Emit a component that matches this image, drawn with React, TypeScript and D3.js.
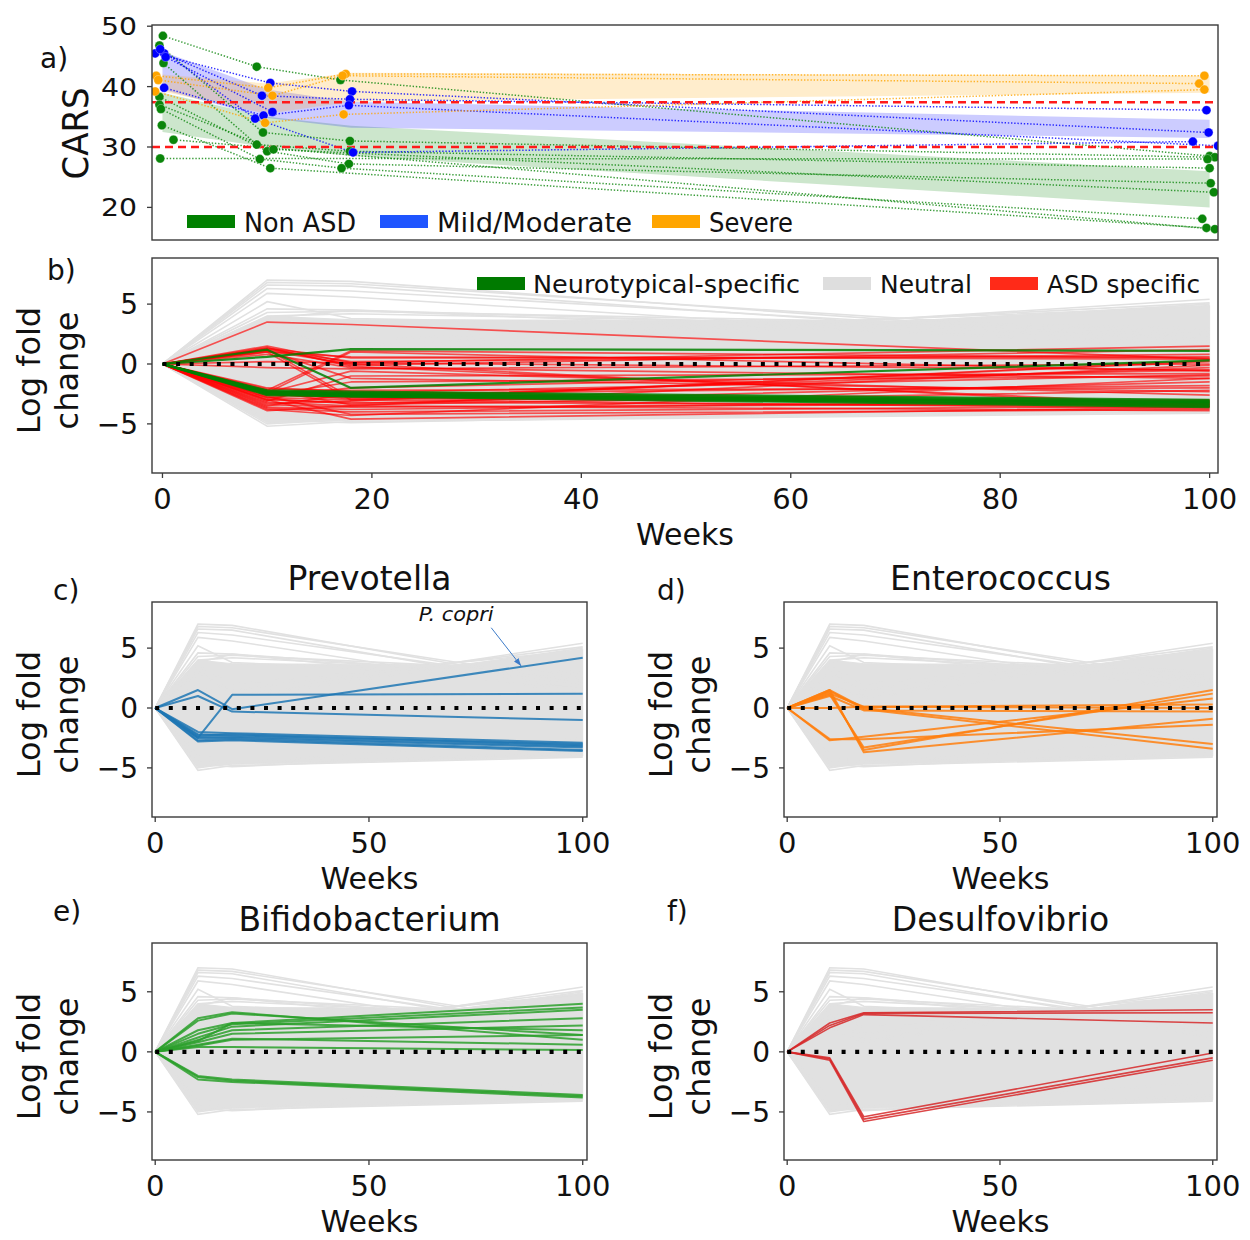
import React from "react";
import * as d3 from "d3";

const FONT = "'DejaVu Sans', sans-serif";

// ---------------- shared time axis ----------------
const weeks = [0, 10, 18, 100];

// ---------------- panel a : CARS ----------------
const carsTicks = [20, 30, 40, 50];
const carsThresholds = [30, 37.4];
const groupNames = ["Non ASD", "Mild/Moderate", "Severe"];
const groupMarkerColors = ["#0a850a", "#0000ff", "#ffa500"];
const groupLegendColors = ["#008000", "#1f55ff", "#ffa500"];
const groupBandColors = ["#008000", "#0000ff", "#ffa500"];

// each subject: [week, CARS] visits
const nonAsdSubjects: [number, number][][] = [
  [[0.04, 48.4], [9.0, 43.3], [17.0, 41.1], [100.0, 28.5]],
  [[-0.29, 46.8], [9.6, 32.4], [17.9, 31.0], [100.5, 28.3]],
  [[0.1, 43.9], [9.0, 30.4], [17.9, 29.3], [100.0, 26.5]],
  [[-0.29, 38.3], [10.0, 29.3], [17.8, 27.2], [100.1, 24.0]],
  [[-0.29, 37.0], [10.6, 29.6], [100.4, 22.5]],
  [[-0.15, 36.3], [9.3, 28.0], [17.1, 26.5], [99.3, 18.1]],
  [[-0.06, 33.6], [10.3, 26.5], [99.7, 16.6]],
  [[1.05, 31.2], [100.5, 16.4]],
  [[-0.22, 28.1], [99.8, 28.0]],
];
const mildSubjects: [number, number][][] = [
  [[-0.7, 45.5], [10.3, 40.6], [18.1, 39.2], [99.9, 32.4]],
  [[0.16, 45.5], [9.5, 38.5], [17.9, 37.9], [99.7, 36.1]],
  [[-0.22, 46.2], [8.85, 34.7], [18.2, 29.1], [98.4, 30.9]],
  [[0.16, 39.8], [9.65, 35.2], [17.8, 36.9], [100.8, 30.2]],
  [[0.3, 44.9], [10.5, 35.8]],
];
const severeSubjects: [number, number][][] = [
  [[-0.6, 41.8], [10.1, 39.8], [17.5, 42.1], [99.5, 41.8]],
  [[-0.4, 41.1], [10.5, 38.5], [17.2, 41.8], [99.0, 40.5]],
  [[-0.7, 39.2], [9.8, 34.0], [17.3, 35.4], [99.5, 39.5]],
];
const nonAsdUpper = [39.0, 35.0, 33.5, 26.0];
const nonAsdLower = [32.5, 30.0, 28.5, 20.0];
const mildUpper = [45.8, 39.5, 37.5, 34.5];
const mildLower = [39.5, 34.8, 33.2, 31.5];
const severeUpper = [42.0, 40.5, 42.3, 41.8];
const severeLower = [39.2, 35.5, 37.5, 39.0];

// ---------------- log fold change panels ----------------
const lfcTicks = [-5, 0, 5];
const weekTicksWide = [0, 20, 40, 60, 80, 100];
const weekTicksNarrow = [0, 50, 100];
const taxaLegendNames = ["Neurotypical-specific", "Neutral", "ASD specific"];
const taxaLegendColors = ["#007a00", "#dedede", "#ff2a18"];

// neutral taxa: dense envelope + individual outer lines
const neutralBandWeeks = [0, 10, 18, 71, 100];
const neutralBandUpper = [0, 4.0, 3.7, 3.6, 4.9];
const neutralBandLower = [0, -4.9, -4.7, -4.3, -4.0];
const neutralLines = [
  [0, 7.0, 6.9, 1.8],
  [0, 6.8, 6.7, 2.2],
  [0, 6.6, 6.5, 1.5],
  [0, 6.3, 6.1, 2.0],
  [0, 5.9, 5.6, 1.2],
  [0, 5.2, 3.8, 2.5],
  [0, 4.6, 4.5, 2.4],
  [0, 4.3, 4.4, 3.0],
  [0, 4.0, 4.2, 2.8],
  [0, 3.8, 4.5, 1.6],
  [0, 3.2, 1.0, 5.4],
  [0, 2.8, 1.5, 5.1],
  [0, 2.0, 0.8, 5.0],
  [0, 3.5, 2.0, 4.8],
  [0, -5.2, -4.8, -4.1],
  [0, -5.0, -4.6, -3.8],
  [0, -4.7, -4.9, -3.6],
  [0, -4.4, -4.5, -4.0],
  [0, -3.9, -4.6, -2.5],
];

const neurotypicalLines = [
  [0, -2.2, -2.3, -3.0],
  [0, -2.3, -2.4, -3.1],
  [0, -2.3, -2.5, -3.2],
  [0, -2.4, -2.5, -3.3],
  [0, -2.4, -2.6, -3.4],
  [0, -2.5, -2.6, -3.5],
  [0, -2.5, -2.7, -3.6],
  [0, -2.6, -2.7, -3.2],
  [0, 0.6, 1.25, 1.1],
  [0, 1.2, -2.0, 0.3],
];

const asdLines = [
  [0, 3.5, 3.3, 0.4],
  [0, 1.5, 0.1, 1.5],
  [0, 1.3, -0.1, 1.2],
  [0, 1.2, 0.2, 0.8],
  [0, 1.3, 0.5, 0.6],
  [0, 1.0, 0.6, 0.4],
  [0, 1.4, -0.2, -3.4],
  [0, 1.1, 0.0, -3.6],
  [0, 1.2, -2.8, -0.3],
  [0, 1.0, -3.0, 0.2],
  [0, 0.8, -0.3, -1.2],
  [0, -2.2, 1.1, 0.5],
  [0, -2.4, 1.0, -0.6],
  [0, -2.3, -2.4, -0.9],
  [0, -2.5, -2.6, -3.2],
  [0, -2.6, -2.8, -3.4],
  [0, -2.8, -3.0, -3.7],
  [0, -3.0, -3.2, -3.5],
  [0, -3.2, -3.5, -3.9],
  [0, -3.4, -3.6, -3.3],
  [0, -3.6, -3.8, -3.0],
  [0, -3.9, -3.5, -0.1],
  [0, -3.0, -4.6, -3.6],
  [0, -2.7, -4.2, -3.8],
  [0, -2.9, -3.3, -1.5],
  [0, -2.1, -2.2, -2.0],
  [0, -3.3, -3.1, 0.3],
  [0, -2.5, -2.9, -3.1],
  [0, -3.7, -4.0, -3.5],
  [0, -2.0, -2.3, -3.3],
  [0, 0.2, 0.1, -0.5],
  [0, -0.3, -0.4, 0.0],
  [0, -3.1, -1.0, -0.8],
  [0, -2.4, -0.6, -2.6],
  [0, -2.6, -1.5, -1.0],
  [0, -2.8, -2.0, -0.5],
  [0, -3.5, -2.5, -1.8],
  [0, -2.2, -3.4, -2.2],
  [0, 1.1, -1.2, -2.3],
  [0, -3.8, -4.3, -1.2],
];

const prevotellaLines = [
  [0, 1.5, -0.1, 4.2],
  [0, 1.0, -0.3, -1.0],
  [0, -2.5, 1.1, 1.2],
  [0, -2.0, -2.1, -2.9],
  [0, -2.2, -2.3, -3.0],
  [0, -2.4, -2.4, -3.2],
  [0, -2.5, -2.5, -3.3],
  [0, -2.7, -2.6, -3.5],
  [0, -2.8, -2.7, -3.6],
  [0, -2.3, -2.2, -3.1],
];
const enterococcusLines = [
  [0, 1.5, 0.0, -3.0],
  [0, 1.4, -0.1, -3.4],
  [0, 1.2, 0.1, 0.3],
  [0, 1.0, -0.2, -0.3],
  [0, 1.5, -3.7, -0.9],
  [0, 1.3, -3.5, 1.5],
  [0, 1.1, -3.3, 1.2],
  [0, -2.7, -2.4, 0.8],
  [0, -2.6, -2.6, -1.4],
  [0, 0.0, 0.1, 0.0],
];
const bifidobacteriumLines = [
  [0, 2.8, 3.3, 1.0],
  [0, 2.6, 3.2, 1.4],
  [0, 1.8, 2.4, 4.0],
  [0, 1.5, 2.3, 3.7],
  [0, 1.2, 2.1, 3.5],
  [0, 1.0, 1.8, 2.8],
  [0, 0.9, 2.4, 1.8],
  [0, 0.8, 1.5, 2.2],
  [0, 0.6, 1.1, 0.6],
  [0, 0.5, 1.0, 1.4],
  [0, 0.4, 0.4, 0.15],
  [0, -2.1, -2.4, -3.7],
  [0, -2.3, -2.5, -3.8],
  [0, -2.0, -2.3, -3.6],
];
const desulfovibrioLines = [
  [0, 2.4, 3.25, 3.5],
  [0, 2.2, 3.2, 3.25],
  [0, 2.0, 3.1, 2.4],
  [0, -0.5, -5.4, -0.1],
  [0, -0.7, -5.8, -0.7],
  [0, -0.6, -5.6, -0.5],
];
const pCopriLabel = { text: "P. copri", week: 70.4, value: 7.25 };
const pCopriArrow = { fromWeek: 78.6, fromValue: 6.7, toWeek: 85.6, toValue: 3.5 };

// ---------------- helpers ----------------
type Scale = d3.ScaleLinear<number, number>;

function Frame({ L, R, T, B }: { L: number; R: number; T: number; B: number }) {
  return <rect x={L} y={T} width={R - L} height={B - T} fill="none" stroke="#3a3a3a" strokeWidth={1.4} />;
}

function YTicks({ y, L, ticks, size }: { y: Scale; L: number; ticks: number[]; size: number }) {
  return (
    <g>
      {ticks.map((t) => (
        <g key={t}>
          <line x1={L - 5} x2={L} y1={y(t)} y2={y(t)} stroke="#3a3a3a" strokeWidth={1.3} />
          <text x={L - 14} y={y(t)} dy="0.36em" textAnchor="end" fontSize={size} fill="#111">
            {t < 0 ? "\u2212" + Math.abs(t) : String(t)}
          </text>
        </g>
      ))}
    </g>
  );
}

function XTicks({ x, B, ticks }: { x: Scale; B: number; ticks: number[] }) {
  return (
    <g>
      {ticks.map((t) => (
        <g key={t}>
          <line x1={x(t)} x2={x(t)} y1={B} y2={B + 5} stroke="#3a3a3a" strokeWidth={1.3} />
          <text x={x(t)} y={B + 36} textAnchor="middle" fontSize={29} fill="#111">
            {String(t)}
          </text>
        </g>
      ))}
    </g>
  );
}

function LfcYLabel({ L, T, B }: { L: number; T: number; B: number }) {
  const cy = (T + B) / 2 + 5;
  return (
    <g fontSize={32} fill="#111">
      <text transform={`translate(${L - 112},${cy}) rotate(-90)`} textAnchor="middle">
        Log fold
      </text>
      <text transform={`translate(${L - 74},${cy}) rotate(-90)`} textAnchor="middle">
        change
      </text>
    </g>
  );
}

type Layer = { lines: number[][]; color: string; opacity: number; width: number };

function LfcPanel({
  id, L, R, T, B, xDomain, yDomain, xTicks, layers, title, label, labelX, labelY, children,
}: {
  id: string; L: number; R: number; T: number; B: number;
  xDomain: [number, number]; yDomain: [number, number]; xTicks: number[];
  layers: Layer[]; title?: string; label: string; labelX: number; labelY: number;
  children?: (x: Scale, y: Scale) => React.ReactNode;
}) {
  const x = d3.scaleLinear().domain(xDomain).range([L, R]);
  const y = d3.scaleLinear().domain(yDomain).range([B, T]);
  const line = d3.line<number>().x((_, i) => x(weeks[i])).y((v) => y(v));
  const band = d3
    .area<number>()
    .x((_, i) => x(neutralBandWeeks[i]))
    .y0((_, i) => y(neutralBandLower[i]))
    .y1((v) => y(v));
  return (
    <g>
      <defs>
        <clipPath id={`clip-${id}`}>
          <rect x={L} y={T} width={R - L} height={B - T} />
        </clipPath>
      </defs>
      <g clipPath={`url(#clip-${id})`}>
        <path d={band(neutralBandUpper) || ""} fill="#e1e1e1" stroke="#e1e1e1" strokeWidth={1} />
        {neutralLines.map((l, i) => (
          <path key={"n" + i} d={line(l) || ""} fill="none" stroke="#e1e1e1" strokeWidth={1.6} />
        ))}
        {layers.map((ly, j) =>
          ly.lines.map((l, i) => (
            <path
              key={j + "-" + i}
              d={line(l) || ""}
              fill="none"
              stroke={ly.color}
              strokeOpacity={ly.opacity}
              strokeWidth={ly.width}
              strokeLinejoin="round"
            />
          ))
        )}
        <line
          x1={x(0)}
          x2={x(100)}
          y1={y(0)}
          y2={y(0)}
          stroke="#000"
          strokeWidth={4.2}
          strokeDasharray="4,9.6"
        />
        {children ? children(x, y) : null}
      </g>
      <Frame L={L} R={R} T={T} B={B} />
      <YTicks y={y} L={L} ticks={lfcTicks} size={28} />
      <XTicks x={x} B={B} ticks={xTicks} />
      <LfcYLabel L={L} T={T} B={B} />
      <text x={(L + R) / 2} y={B + 72} textAnchor="middle" fontSize={30} fill="#111">
        Weeks
      </text>
      {title ? (
        <text x={(L + R) / 2} y={T - 12} textAnchor="middle" fontSize={33} fill="#111">
          {title}
        </text>
      ) : null}
      <text x={labelX} y={labelY} fontSize={28} fill="#111">
        {label}
      </text>
    </g>
  );
}

// ---------------- panel a ----------------
function PanelA() {
  const L = 152, R = 1218, T = 25, B = 240;
  const x = d3.scaleLinear().domain([-1, 100.8]).range([L, R]);
  const y = d3.scaleLinear().domain([14.6, 50.2]).range([B, T]);
  const bandGen = (lower: number[]) =>
    d3
      .area<number>()
      .x((_, i) => x(weeks[i]))
      .y0((_, i) => y(lower[i]))
      .y1((v) => y(v));
  const subjLine = d3.line<[number, number]>().x((d) => x(d[0])).y((d) => y(d[1]));
  const groups = [
    { subjects: nonAsdSubjects, upper: nonAsdUpper, lower: nonAsdLower },
    { subjects: mildSubjects, upper: mildUpper, lower: mildLower },
    { subjects: severeSubjects, upper: severeUpper, lower: severeLower },
  ];
  const legendPatchX = [187, 380, 652];
  const legendTextX = [244, 437, 709];
  const legendTextW = [112, 195, 84];
  return (
    <g>
      <defs>
        <clipPath id="clip-a">
          <rect x={L} y={T} width={R - L} height={B - T} />
        </clipPath>
      </defs>
      <g clipPath="url(#clip-a)">
        {groups.map((g, gi) => (
          <path key={"band" + gi} d={bandGen(g.lower)(g.upper) || ""} fill={groupBandColors[gi]} fillOpacity={0.2} />
        ))}
        {groups.map((g, gi) =>
          g.subjects.map((s, si) => (
            <path
              key={`l${gi}-${si}`}
              d={subjLine(s) || ""}
              fill="none"
              stroke={groupMarkerColors[gi]}
              strokeWidth={1.5}
              strokeOpacity={0.8}
              strokeDasharray="1.4,1.8"
            />
          ))
        )}
        {carsThresholds.map((c) => (
          <line key={c} x1={L} x2={R} y1={y(c)} y2={y(c)} stroke="#ff1a1a" strokeWidth={2.6} strokeDasharray="8,5" />
        ))}
        {groups.map((g, gi) =>
          g.subjects.map((s, si) =>
            s.map((p, pi) => (
              <circle
                key={`c${gi}-${si}-${pi}`}
                cx={x(p[0])}
                cy={y(p[1])}
                r={4.5}
                fill={groupMarkerColors[gi]}
                stroke="#ffffff"
                strokeOpacity={0.5}
                strokeWidth={0.6}
              />
            ))
          )
        )}
      </g>
      <Frame L={L} R={R} T={T} B={B} />
      {carsTicks.map((t) => (
        <g key={t}>
          <line x1={L - 5} x2={L} y1={y(t)} y2={y(t)} stroke="#3a3a3a" strokeWidth={1.3} />
          <text x={137} y={y(t)} dy="0.36em" textAnchor="end" fontSize={25} textLength={36} lengthAdjust="spacingAndGlyphs" fill="#111">
            {t}
          </text>
        </g>
      ))}
      <text transform={`translate(88,${(T + B) / 2 + 1}) rotate(-90)`} textAnchor="middle" fontSize={36} textLength={92} lengthAdjust="spacingAndGlyphs" fill="#111">
        CARS
      </text>
      {groupNames.map((n, i) => (
        <g key={n}>
          <rect x={legendPatchX[i]} y={215} width={48} height={13} fill={groupLegendColors[i]} />
          <text x={legendTextX[i]} y={232} fontSize={26} textLength={legendTextW[i]} lengthAdjust="spacingAndGlyphs" fill="#111">
            {n}
          </text>
        </g>
      ))}
      <text x={40} y={68} fontSize={28} fill="#111">
        a)
      </text>
    </g>
  );
}

// ---------------- panel b ----------------
function PanelB() {
  const L = 152, R = 1218, T = 258, B = 473;
  const legendPatchX = [477, 823, 990];
  const legendTextX = [533, 880, 1047];
  const legendTextW = [267, 92, 153];
  return (
    <g>
      <LfcPanel
        id="b"
        L={L} R={R} T={T} B={B}
        xDomain={[-1, 100.8]}
        yDomain={[-9.1, 8.85]}
        xTicks={weekTicksWide}
        layers={[
          { lines: asdLines, color: "#ff0000", opacity: 0.65, width: 1.7 },
          { lines: neurotypicalLines, color: "#008000", opacity: 0.85, width: 2.2 },
        ]}
        label="b)"
        labelX={47}
        labelY={280}
      />
      {taxaLegendNames.map((n, i) => (
        <g key={n}>
          <rect x={legendPatchX[i]} y={277} width={48} height={13} fill={taxaLegendColors[i]} />
          <text x={legendTextX[i]} y={293} fontSize={25} textLength={legendTextW[i]} lengthAdjust="spacingAndGlyphs" fill="#111">
            {n}
          </text>
        </g>
      ))}
    </g>
  );
}

export default function App() {
  const narrow: [number, number] = [-0.75, 101];
  return (
    <svg
      width={1250}
      height={1240}
      style={{ position: "absolute", left: 0, top: 0, background: "#fff" }}
      fontFamily={FONT}
    >
      <defs>
        <marker id="arrowhead" viewBox="0 0 10 10" refX={10} refY={5} markerWidth={8} markerHeight={8} orient="auto">
          <path d="M0,1.5 L10,5 L0,8.5 z" fill="#3d7cc9" />
        </marker>
      </defs>
      <rect width={1250} height={1240} fill="#fff" />
      <PanelA />
      <PanelB />
      <LfcPanel
        id="c" L={152} R={587} T={602} B={817}
        xDomain={narrow} yDomain={[-9.1, 8.85]} xTicks={weekTicksNarrow}
        layers={[{ lines: prevotellaLines, color: "#1f77b4", opacity: 0.85, width: 2 }]}
        title="Prevotella" label="c)" labelX={53} labelY={600}
      >
        {(x, y) => (
          <g>
            <line
              x1={x(pCopriArrow.fromWeek)}
              y1={y(pCopriArrow.fromValue)}
              x2={x(pCopriArrow.toWeek)}
              y2={y(pCopriArrow.toValue)}
              stroke="#3d7cc9"
              strokeWidth={1}
              markerEnd="url(#arrowhead)"
            />
            <text
              x={x(pCopriLabel.week)}
              y={y(pCopriLabel.value)}
              textAnchor="middle"
              fontSize={20}
              fontStyle="italic"
              textLength={75}
              lengthAdjust="spacingAndGlyphs"
              fill="#111"
            >
              {pCopriLabel.text}
            </text>
          </g>
        )}
      </LfcPanel>
      <LfcPanel
        id="d" L={784} R={1217} T={602} B={817}
        xDomain={narrow} yDomain={[-9.1, 8.85]} xTicks={weekTicksNarrow}
        layers={[{ lines: enterococcusLines, color: "#ff7f0e", opacity: 0.85, width: 2 }]}
        title="Enterococcus" label="d)" labelX={657} labelY={600}
      />
      <LfcPanel
        id="e" L={152} R={587} T={943} B={1160}
        xDomain={narrow} yDomain={[-9.0, 9.06]} xTicks={weekTicksNarrow}
        layers={[{ lines: bifidobacteriumLines, color: "#2ca02c", opacity: 0.85, width: 2 }]}
        title="Bifidobacterium" label="e)" labelX={53} labelY={921}
      />
      <LfcPanel
        id="f" L={784} R={1217} T={943} B={1160}
        xDomain={narrow} yDomain={[-9.0, 9.06]} xTicks={weekTicksNarrow}
        layers={[{ lines: desulfovibrioLines, color: "#d62728", opacity: 0.85, width: 1.6 }]}
        title="Desulfovibrio" label="f)" labelX={667} labelY={921}
      />
    </svg>
  );
}
